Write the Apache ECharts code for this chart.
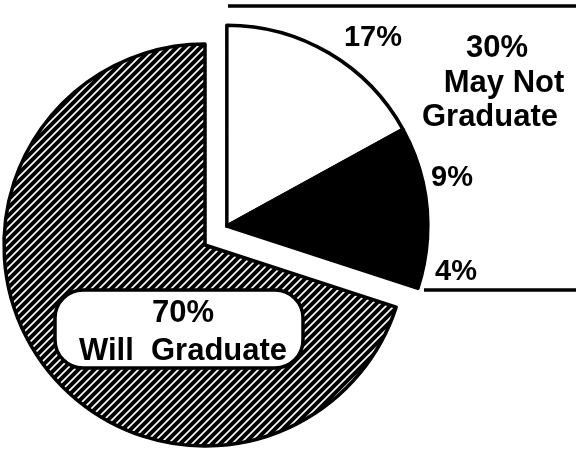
<!DOCTYPE html>
<html>
<head>
<meta charset="utf-8">
<script src="https://cdn.jsdelivr.net/npm/echarts@6/dist/echarts.min.js"></script>
<style>
html,body{margin:0;padding:0;background:#fff;}
#c{width:576px;height:450px;}
</style>
</head>
<body>
<div id="c"></div>
<script>
// ---- data ----
const mainCategories = ['Will Graduate', 'May Not Graduate'];
const mainValues = [70, 30];
const subCategories = ['17%', '9%', '4%'];
const subValues = [17, 9, 4];
const groupTitle = ['May Not', 'Graduate'];
const mainTitle = 'Will  Graduate';

// ---- hatch pattern ----
function hatch(size, lw) {
  const c = document.createElement('canvas');
  c.width = size; c.height = size;
  const g = c.getContext('2d');
  g.fillStyle = '#fff'; g.fillRect(0, 0, size, size);
  g.strokeStyle = '#000'; g.lineWidth = lw; g.lineCap = 'square';
  g.beginPath();
  g.moveTo(-size, size); g.lineTo(size, -size);
  g.moveTo(0, size); g.lineTo(size, 0);
  g.moveTo(0, 2 * size); g.lineTo(2 * size, 0);
  g.stroke();
  return c;
}
const hatchImg = hatch(8, 4);

const font = '"Liberation Sans", Arial, Helvetica, sans-serif';
const total = mainValues.reduce((a, b) => a + b, 0);
const groupTotal = subValues.reduce((a, b) => a + b, 0);
const mainCenter = [205, 245];
const R = 201;
const explode = 27;
const midDeg = (groupTotal / total) * 180; // clockwise from 12 o'clock
const subCenter = [
  mainCenter[0] + explode * Math.sin(midDeg * Math.PI / 180),
  mainCenter[1] - explode * Math.cos(midDeg * Math.PI / 180) - 3
];
const transparent = { color: 'rgba(0,0,0,0)', borderWidth: 0 };
const border = { borderColor: '#000', borderWidth: 3.5 };
const subColors = ['#fff', '#000', '#000'];

function txt(x, y, s, size) {
  return { type: 'text', x: x, y: y, z: 100,
    style: { text: s, font: 'bold ' + size + 'px ' + font, fill: '#000', align: 'center', verticalAlign: 'middle' } };
}

const chart = echarts.init(document.getElementById('c'), null, { renderer: 'canvas' });
chart.setOption({
  backgroundColor: '#fff',
  animation: false,
  series: [
    {
      type: 'pie', center: mainCenter, radius: [0, R], startAngle: 90, clockwise: true,
      label: { show: false }, labelLine: { show: false }, emphasis: { disabled: true },
      silent: true, avoidLabelOverlap: false,
      data: [
        { name: mainCategories[1], value: mainValues[1], itemStyle: transparent },
        { name: mainCategories[0], value: mainValues[0],
          itemStyle: Object.assign({ color: { image: hatchImg, repeat: 'repeat' } }, border) }
      ]
    },
    {
      type: 'pie', center: subCenter, radius: [0, R], startAngle: 90, clockwise: true,
      label: { show: false }, labelLine: { show: false }, emphasis: { disabled: true },
      silent: true, avoidLabelOverlap: false,
      data: subValues.map((v, i) => ({
        name: subCategories[i], value: v,
        itemStyle: Object.assign({ color: subColors[i] }, border)
      })).concat([{ name: 'rest', value: mainValues[0], itemStyle: transparent }])
    }
  ],
  graphic: [
    { type: 'line', z: 100, shape: { x1: 228, y1: 6, x2: 576, y2: 6 }, style: { stroke: '#000', lineWidth: 3.5 } },
    { type: 'line', z: 100, shape: { x1: 424, y1: 290, x2: 576, y2: 290 }, style: { stroke: '#000', lineWidth: 3.5 } },
    txt(373, 38, subValues[0] + '%', 29),
    txt(452, 178, subValues[1] + '%', 29),
    txt(456, 272, subValues[2] + '%', 29),
    txt(497, 48, mainValues[1] + '%', 31),
    txt(504, 83, groupTitle[0], 31),
    txt(490, 117, groupTitle[1], 31),
    { type: 'rect', z: 99, shape: { x: 55, y: 290, width: 248, height: 78, r: 28 }, style: { fill: '#fff', stroke: '#000', lineWidth: 3.5 } },
    txt(183, 313, mainValues[0] + '%', 31),
    txt(183, 351, mainTitle, 31)
  ]
});
</script>
</body>
</html>
